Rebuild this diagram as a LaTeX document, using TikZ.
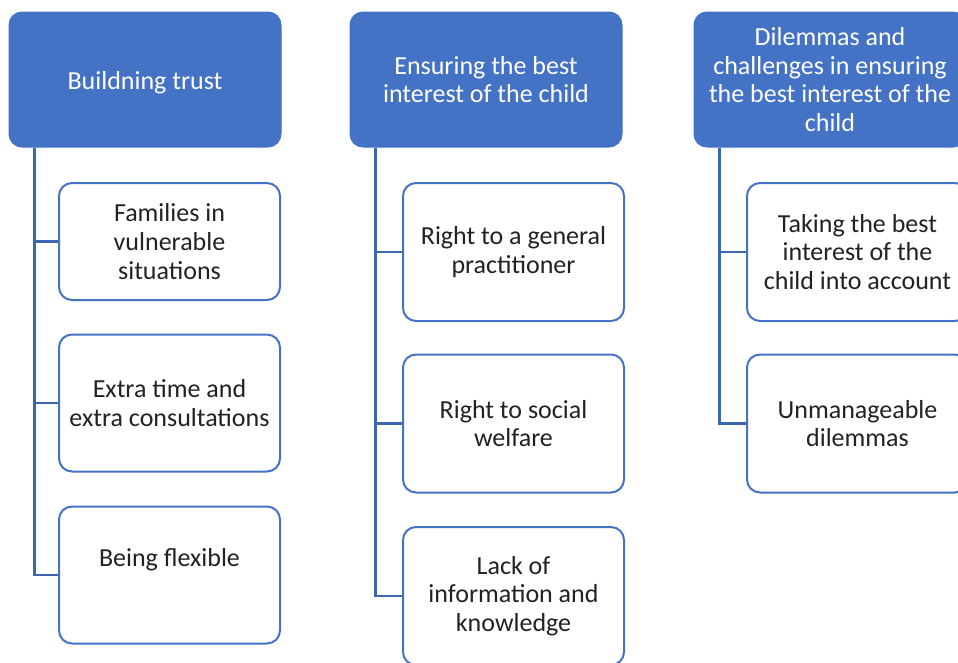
\documentclass[tikz,border=0pt]{standalone}
\usepackage{fontspec}
\setmainfont{Carlito}
\definecolor{hdrblue}{HTML}{4472C4}
\definecolor{linkblue}{HTML}{3C66B0}
\definecolor{bodytext}{HTML}{222222}
\begin{document}
\begin{tikzpicture}[x=1pt,y=-1pt,
  hdr/.style={draw=hdrblue, fill=hdrblue, line width=1pt, rounded corners=13pt,
    minimum width=272pt, minimum height=135pt, inner sep=0pt, align=center,
    text=white, font=\fontsize{26}{28.6}\selectfont},
  leaf/.style={draw=hdrblue, fill=white, line width=2pt, rounded corners=13pt,
    minimum width=221pt, minimum height=137pt, inner sep=0pt, align=center,
    text=bodytext, font=\fontsize{26}{28.6}\selectfont},
  conn/.style={draw=linkblue, line width=2.5pt}]
\useasboundingbox (0,0) rectangle (958,662);
\clip (0,0) rectangle (958,662);

% column headers
\node[hdr] (h1) at (145,79.5) {\raisebox{-3pt}[0.75em][0.25em]{Buildning trust}};
\node[hdr] (h2) at (486,79.5) {Ensuring the best\\interest of the child};
\node[hdr] (h3) at (830,79.5) {Dilemmas and\\challenges in ensuring\\the best interest of the\\child};

% first column
\node[leaf, minimum height=117pt] (a1) at (169.5,241.5) {Families in\\vulnerable\\situations};
\node[leaf] (a2) at (169.5,403) {Extra time and\\extra consultations};
\node[leaf] (a3) at (169.5,575) {\raisebox{15pt}[0.75em][0.25em]{Being flexible}};

% second column
\node[leaf, minimum height=138pt] (b1) at (513.5,252) {Right to a general\\practitioner};
\node[leaf, minimum height=138pt] (b2) at (513.5,423.5) {Right to social\\welfare};
\node[leaf, minimum height=138pt] (b3) at (513.5,596) {Lack of\\information and\\knowledge};

% third column
\node[leaf, minimum height=138pt] (c1) at (857.5,252) {Taking the best\\interest of the\\child into account};
\node[leaf, minimum height=138pt] (c2) at (857.5,423.5) {Unmanageable\\dilemmas};

% tree connectors
\foreach \h/\k in {h1/a1, h1/a2, h1/a3, h2/b1, h2/b2, h2/b3, h3/c1, h3/c2}
  \draw[conn] ([xshift=26pt]\h.south west) |- (\k.west);
\end{tikzpicture}
\end{document}
